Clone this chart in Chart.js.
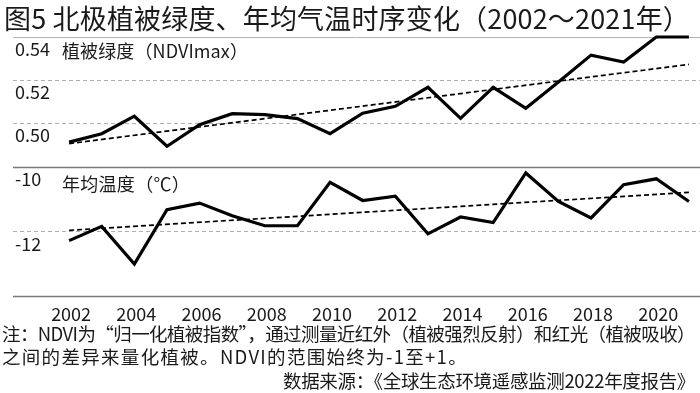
<!DOCTYPE html>
<html><head><meta charset="utf-8">
<script src="https://cdn.jsdelivr.net/npm/chart.js@4.4.1/dist/chart.umd.min.js"></script>
<style>
html,body{margin:0;padding:0;background:#fff;}
#wrap{position:relative;width:700px;height:393px;overflow:hidden;font-family:"Noto Sans CJK SC",sans-serif;color:#1a1a1a;}
#c{position:absolute;left:0;top:0;}
.t{position:absolute;white-space:nowrap;line-height:1;}
.note{font-size:18.5px;}
</style></head><body>
<div id="wrap">
<canvas id="c" width="700" height="330"></canvas>
<div class="t" id="title" style="left:4px;top:4px;font-size:27px;font-weight:400;">图5 北极植被绿度、年均气温时序变化（2002～2021年）</div>
<div class="t" id="s1" style="left:62px;top:41px;font-size:18px;">植被绿度（NDVImax）</div>
<div class="t" id="s2" style="left:62px;top:174px;font-size:18px;">年均温度（℃）</div>
<div class="t note" id="n1" style="left:2px;top:324px;">注：NDVI为“归一化植被指数”，通过测量近红外（植被强烈反射）和红光（植被吸收）</div>
<div class="t note" id="n2" style="left:2px;top:347px;">之间的差异来量化植被。NDVI的范围始终为-1至+1。</div>
<div class="t note" id="n3" style="right:5px;top:371px;">数据来源：《全球生态环境遥感监测2022年度报告》</div>
</div>
<script>
// ---- data ----
const years = [2002,2003,2004,2005,2006,2007,2008,2009,2010,2011,2012,2013,2014,2015,2016,2017,2018,2019,2020,2021];
const ndviValues = [0.4913,0.4952,0.5033,0.4894,0.4994,0.5045,0.5040,0.5022,0.4952,0.5047,0.5079,0.5167,0.5023,0.5167,0.5070,0.5191,0.5316,0.5284,0.5400,0.5400];
const tempValues = [-12.29,-11.85,-13.01,-11.33,-11.13,-11.52,-11.83,-11.83,-10.49,-11.05,-10.92,-12.08,-11.56,-11.73,-10.20,-11.08,-11.59,-10.56,-10.38,-11.08];
const trendYears = [2002,2021];
const ndviTrend = [0.4906,0.5273];
const tempTrend = [-11.97,-10.80];
const xTickLabels = [2002,2004,2006,2008,2010,2012,2014,2016,2018,2020];
const ndviTickLabels = [0.50,0.52,0.54];
const tempTickLabels = [-12,-10];
const ndviPanel = [0.48,0.54];
const tempPanel = [-14,-10];

// fit text widths to the reference layout
function fitWidth(id, target){
  const el = document.getElementById(id);
  const n = Array.from(el.textContent).length;
  const w = el.getBoundingClientRect().width;
  el.style.letterSpacing = ((target - w) / n) + 'px';
}
fitWidth('title', 686);
fitWidth('s1', 186);
fitWidth('s2', 128);
fitWidth('n1', 693);
fitWidth('n2', 466);
fitWidth('n3', 412);

const FONT = '"Noto Sans CJK SC", sans-serif';
const TXT = '#1a1a1a';

const pts = (xs, ys) => xs.map((x,i)=>({x:x,y:ys[i]}));

const gridPlugin = {
  id:'panelGrid',
  beforeDatasetsDraw(chart){
    const ctx = chart.ctx, a = chart.chartArea;
    const yN = chart.scales.yN, yT = chart.scales.yT;
    const line = (y, color, w, dash) => {
      ctx.save(); ctx.strokeStyle=color; ctx.lineWidth=w; ctx.setLineDash(dash);
      ctx.beginPath(); ctx.moveTo(a.left, Math.round(y)+0.5); ctx.lineTo(a.right, Math.round(y)+0.5); ctx.stroke(); ctx.restore();
    };
    ndviTickLabels.forEach(v=>{
      if (v === ndviPanel[1]) line(yN.getPixelForValue(v), '#b4b4b4', 1, []);
      else line(yN.getPixelForValue(v), '#b0b0b0', 1, [4,3]);
    });
    tempTickLabels.forEach(v=>{
      if (v !== tempPanel[1]) line(yT.getPixelForValue(v), '#b0b0b0', 1, [4,3]);
    });
    line(yN.getPixelForValue(ndviPanel[0]), '#7a7a7a', 1.6, []);
    line(yT.getPixelForValue(tempPanel[0]), '#7a7a7a', 1.6, []);
  }
};

const tickFont = {family: FONT, size: 18};

new Chart(document.getElementById('c'), {
  type:'line',
  data:{
    datasets:[
      {label:'植被绿度', data: pts(years, ndviValues), yAxisID:'yN', borderColor:'#000', borderWidth:3.2, pointRadius:0, tension:0, clip:false, borderJoinStyle:'miter'},
      {label:'植被绿度趋势', data: pts(trendYears, ndviTrend), yAxisID:'yN', borderColor:'#000', borderWidth:1.7, borderDash:[5,3], pointRadius:0, clip:false},
      {label:'年均温度', data: pts(years, tempValues), yAxisID:'yT', borderColor:'#000', borderWidth:3.2, pointRadius:0, tension:0, clip:false, borderJoinStyle:'miter'},
      {label:'年均温度趋势', data: pts(trendYears, tempTrend), yAxisID:'yT', borderColor:'#000', borderWidth:1.7, borderDash:[5,3], pointRadius:0, clip:false}
    ]
  },
  options:{
    responsive:false, animation:false, devicePixelRatio:1,
    layout:{padding:{top:37,left:13,right:0,bottom:4}},
    plugins:{legend:{display:false}, tooltip:{enabled:false}},
    scales:{
      x:{type:'linear', min:2000.28, max:2021.34,
         grid:{display:false, drawTicks:false}, border:{display:false},
         afterBuildTicks: s => { s.ticks = xTickLabels.map(v=>({value:v})); },
         afterFit: s => { s.height = 30; },
         ticks:{font:tickFont, color:TXT, padding:7, labelOffset:2, maxRotation:0, autoSkip:false, callback:v=>String(v)}},
      yN:{type:'linear', position:'left', min:0.42, max:0.54,
         grid:{display:false, drawTicks:false}, border:{display:false},
         afterBuildTicks: s => { s.ticks = ndviTickLabels.map(v=>({value:v})); },
         afterFit: s => { s.width = 0; },
         ticks:{mirror:true, padding:2, labelOffset:12, font:tickFont, color:TXT, callback:v=>Number(v).toFixed(2)}},
      yT:{type:'linear', position:'left', min:-14, max:-6,
         grid:{display:false, drawTicks:false}, border:{display:false},
         afterBuildTicks: s => { s.ticks = tempTickLabels.map(v=>({value:v})); },
         afterFit: s => { s.width = 0; },
         ticks:{mirror:true, padding:2, labelOffset:13, font:tickFont, color:TXT, callback:v=>String(v)}}
    }
  },
  plugins:[gridPlugin]
});
</script>
</body></html>
